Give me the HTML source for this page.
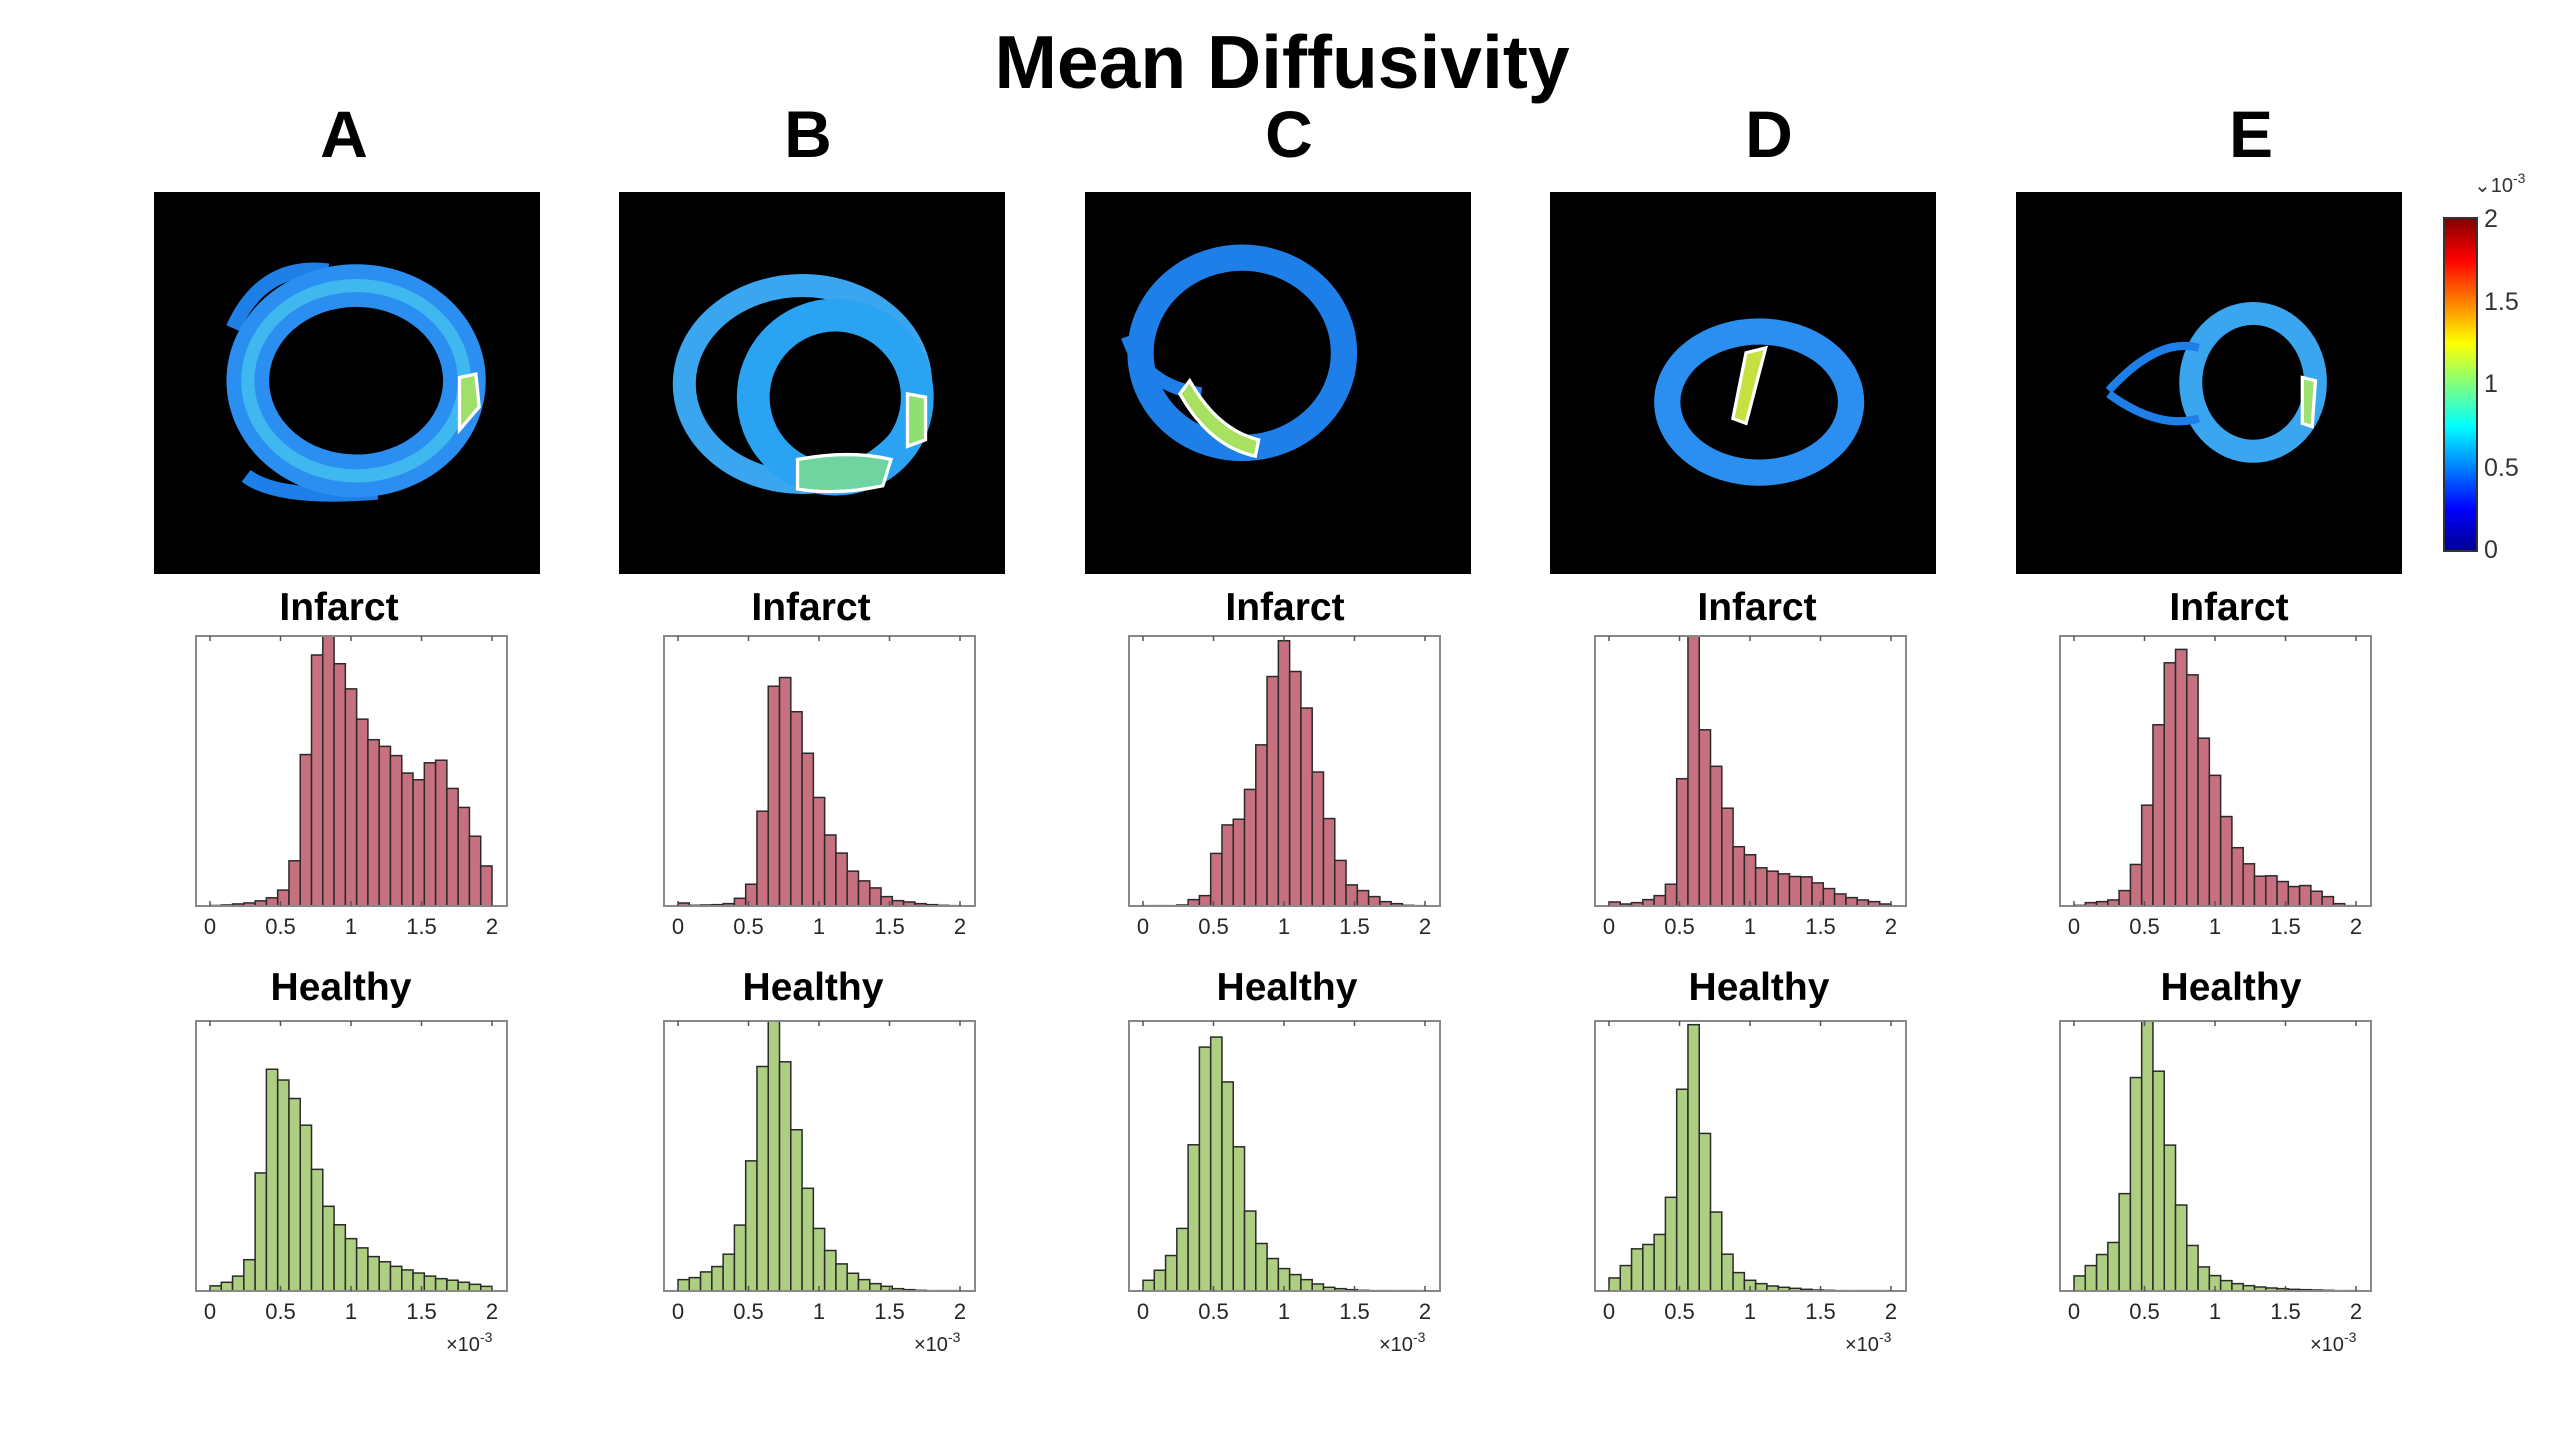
<!DOCTYPE html>
<html><head><meta charset="utf-8"><style>
html,body{margin:0;padding:0;background:#fff;}
svg{display:block;font-family:"Liberation Sans",Arial,sans-serif;}
</style></head><body>
<svg id="fig" width="2560" height="1440" viewBox="0 0 2560 1440" xmlns="http://www.w3.org/2000/svg">
<defs>
<linearGradient id="jet" x1="0" y1="1" x2="0" y2="0">
<stop offset="0" stop-color="#00008f"/><stop offset="0.125" stop-color="#0000ff"/><stop offset="0.375" stop-color="#00ffff"/><stop offset="0.625" stop-color="#ffff00"/><stop offset="0.875" stop-color="#ff0000"/><stop offset="1" stop-color="#800000"/>
</linearGradient>
</defs>
<text x="1282" y="88" text-anchor="middle" font-size="75" font-weight="bold">Mean Diffusivity</text>
<g id="mri"></g>
<g id="charts"></g>
<g>
<rect x="2444" y="218" width="33" height="333" fill="url(#jet)" stroke="#333" stroke-width="2"/>
<text x="2474" y="192" font-size="20" fill="#333">⌄10<tspan dy="-9" font-size="14">-3</tspan></text>
<text x="2484" y="227" font-size="25" fill="#333">2</text>
<text x="2484" y="310" font-size="25" fill="#333">1.5</text>
<text x="2484" y="392" font-size="25" fill="#333">1</text>
<text x="2484" y="476" font-size="25" fill="#333">0.5</text>
<text x="2484" y="558" font-size="25" fill="#333">0</text>
</g>
</svg>
<script>
const panelLabels = ["A","B","C","D","E"];
const tickLabels = ["0","0.5","1","1.5","2"];
const tickValues = [0,0.5,1,1.5,2];
const binWidth = 0.08;
const infarctA = [1,2,4,6,10,16,31,88,295,489,526,472,423,364,324,311,293,259,246,279,284,229,192,136,78];
const infarctB = [9,2,3,4,7,23,65,283,656,682,580,456,324,212,158,104,75,54,28,16,12,7,4,2,1];
const infarctC = [1,1,1,3,19,31,157,242,259,348,481,685,792,700,591,400,261,136,63,46,28,13,7,2,1];
const infarctD = [12,6,10,19,31,65,380,806,526,417,292,177,153,114,104,96,88,87,69,52,36,25,18,13,6];
const infarctE = [2,10,13,18,46,124,301,541,726,766,690,501,390,267,174,126,89,90,73,58,61,44,28,7,1];
const healthyA = [10,17,29,61,230,432,411,375,323,237,165,129,102,84,67,57,48,41,35,29,24,21,17,13,9];
const healthyB = [34,40,57,73,110,197,389,671,807,685,482,307,187,121,81,53,34,22,14,7,4,2,1,1,1];
const healthyC = [32,62,106,187,437,729,759,625,431,239,142,97,67,49,34,21,11,7,4,2,1,1,1,1,1];
const healthyD = [39,76,126,139,169,280,603,796,471,236,110,55,32,22,15,11,8,5,3,2,1,1,1,1,1];
const healthyE = [45,76,109,145,291,638,807,657,436,257,136,72,46,31,22,16,12,9,7,5,4,3,2,1,1];
const infarctMax = [526,806,806,806,806];
const healthyMax = [526,807,807,807,807];

const NS="http://www.w3.org/2000/svg";
function mk(tag,attrs,parent){const e=document.createElementNS(NS,tag);for(const k in attrs)e.setAttribute(k,attrs[k]);parent.appendChild(e);return e;}
const charts=document.getElementById('charts');
const mri=document.getElementById('mri');
const infarctSets=[infarctA,infarctB,infarctC,infarctD,infarctE];
const healthySets=[healthyA,healthyB,healthyC,healthyD,healthyE];
const axLeft=[196,664,1129,1595,2060];
const imgLeft=[154,619,1085,1550,2016];
const letterX=[344,808,1289,1769,2251];
const titleX=[339,811,1285,1757,2229];
const AXW=311, AXH=270;

function drawHist(g,left,top,vals,ymax,fill,name,showExp){
  const xs=v=>left+14+v*141;
  const ys=v=>top+AXH-v/ymax*AXH;
  for(let i=0;i<vals.length;i++){
    const x0=xs(i*binWidth), x1=xs((i+1)*binWidth);
    const r=mk('rect',{x:x0,y:ys(vals[i]),width:x1-x0,height:top+AXH-ys(vals[i]),fill:fill,stroke:'#2a2a2a','stroke-width':1.5},g);
    
    
  }
  const box=mk('rect',{x:left,y:top,width:AXW,height:AXH,fill:'none',stroke:'#888','stroke-width':2},g);
  
  
  tickValues.forEach((tv,i)=>{
    const x=xs(tv);
    mk('line',{x1:x,y1:top,x2:x,y2:top+5,stroke:'#555','stroke-width':1.5},g);
    mk('line',{x1:x,y1:top+AXH,x2:x,y2:top+AXH-5,stroke:'#555','stroke-width':1.5},g);
    const t=mk('text',{x:x,y:top+AXH+28,'text-anchor':'middle','font-size':22,fill:'#262626'},g);
    t.textContent=tickLabels[i];
    
    
  });
  if(showExp){
    const t=mk('text',{x:left+250,y:top+AXH+60,'font-size':20,fill:'#262626'},g);
    t.innerHTML='×10<tspan dy="-9" font-size="14">-3</tspan>';
    
    
  }
}

for(let k=0;k<5;k++){
  const g=mk('g',{},charts);
  
  
  const lab=mk('text',{x:letterX[k],y:157,'text-anchor':'middle','font-size':66,'font-weight':'bold'},g);
  lab.textContent=panelLabels[k];
  
  
  const t1=mk('text',{x:titleX[k],y:620,'text-anchor':'middle','font-size':39,'font-weight':'bold'},g);
  t1.textContent='Infarct';
  
  
  const t2=mk('text',{x:titleX[k]+2,y:1000,'text-anchor':'middle','font-size':39,'font-weight':'bold'},g);
  t2.textContent='Healthy';
  
  
  drawHist(g,axLeft[k],636,infarctSets[k],infarctMax[k],'#c67080','infarct-'+panelLabels[k],false);
  drawHist(g,axLeft[k],1021,healthySets[k],healthyMax[k],'#aecf82','healthy-'+panelLabels[k],true);
  const bg=mk('rect',{x:imgLeft[k],y:192,width:386,height:382,fill:'#000'},mri);
  
  
}
const hearts=document.createElementNS(NS,'g');
hearts.setAttribute('transform','scale(1.641)');


mri.appendChild(hearts);
hearts.innerHTML=`
<path d="M142,200 Q160,160 200,165 M150,290 Q170,305 230,300" fill="none" stroke="#1e7fe8" stroke-width="9"/>
<ellipse cx="217" cy="232" rx="66" ry="58" fill="none" stroke="#2a8ff0" stroke-width="26"/>
<ellipse cx="217" cy="232" rx="66" ry="58" fill="none" stroke="#3fb8f0" stroke-width="8"/>
<path d="M280,230 L290,228 L292,248 L280,262 Z" fill="#9fe06a" stroke="#fff" stroke-width="2"/>
<ellipse cx="489" cy="234" rx="72" ry="60" fill="none" stroke="#3aa6f0" stroke-width="14"/>
<ellipse cx="509" cy="242" rx="50" ry="50" fill="none" stroke="#2aa4f2" stroke-width="20"/>
<path d="M486,280 Q518,274 543,280 L538,296 Q510,302 486,298 Z" fill="#6fd4a0" stroke="#fff" stroke-width="2"/>
<path d="M553,240 L564,242 L564,268 L553,272 Z" fill="#8fe070" stroke="#fff" stroke-width="2"/>
<ellipse cx="757" cy="215" rx="62" ry="58" fill="none" stroke="#1f7fe8" stroke-width="16"/>
<path d="M687,205 Q697,235 732,240" fill="none" stroke="#1f7fe8" stroke-width="8"/>
<path d="M725,232 Q742,262 767,268 L765,278 Q737,272 719,240 Z" fill="#a8e060" stroke="#fff" stroke-width="2"/>
<ellipse cx="1072" cy="245" rx="56" ry="43" fill="none" stroke="#2a8ff0" stroke-width="16"/>
<path d="M1064,215 L1076,212 L1064,258 L1056,255 Z" fill="#c8e040" stroke="#fff" stroke-width="2"/>
<ellipse cx="1373" cy="233" rx="38" ry="42" fill="none" stroke="#3aa6f0" stroke-width="14"/>
<path d="M1285,238 Q1315,205 1340,212 M1285,240 Q1315,262 1340,255" fill="none" stroke="#1e7fe8" stroke-width="5"/>
<path d="M1403,230 L1411,232 L1409,260 L1403,258 Z" fill="#9fe070" stroke="#fff" stroke-width="2"/>
`;
</script>
</body></html>
